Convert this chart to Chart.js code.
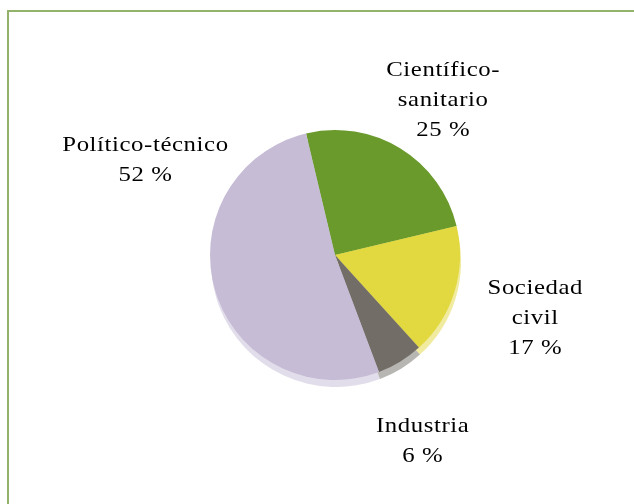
<!DOCTYPE html>
<html lang="es">
<head>
  <meta charset="UTF-8">
  <title>Distribución por sector</title>
  <script src="https://cdn.jsdelivr.net/npm/chart.js"></script>
  <style>
    body { margin: 0; background: #fff; }
    #wrap { position: relative; width: 634px; height: 504px; }
    #frame {
      position: absolute; left: 7px; top: 10px; right: 0; bottom: 0;
      border-top: 2px solid #93b36b; border-left: 2px solid #93b36b;
    }
    canvas { position: absolute; left: 0; top: 0; }
  </style>
</head>
<body>
  <div id="wrap">
    <div id="frame"></div>
    <canvas id="pieChart" width="634" height="504"></canvas>
  </div>

  <script>
    // categories (multi-line labels) and their shares in %
    const categories = [['Científico-', 'sanitario'], ['Sociedad', 'civil'], ['Industria'], ['Político-técnico']];
    const shares = [25, 17, 6, 52];
    const colors = ['#6a9a2c', '#e2d840', '#726e67', '#c6bcd6'];

    // light "3D" shadow under the pie: same arcs, shifted down and faded
    const pieShadow = {
      id: 'pieShadow',
      beforeDatasetsDraw(chart) {
        const ctx = chart.ctx;
        ctx.save();
        ctx.translate(1, 7);
        ctx.globalAlpha = 0.5;
        chart.getDatasetMeta(0).data.forEach(arc => arc.draw(ctx));
        ctx.restore();
      }
    };

    // outside labels: name lines + value, placed around each slice's mid angle
    const outerLabels = {
      id: 'outerLabels',
      afterDatasetsDraw(chart, args, opts) {
        const ctx = chart.ctx;
        const lineH = opts.lineHeight;
        chart.getDatasetMeta(0).data.forEach((arc, i) => {
          const adj = opts.adjust[i];
          const mid = (arc.startAngle + arc.endAngle) / 2 + adj.turn * Math.PI / 180;
          const x = arc.x + Math.cos(mid) * adj.dist;
          const y = arc.y + Math.sin(mid) * adj.dist;
          const lines = chart.data.labels[i].concat([chart.data.datasets[0].data[i] + ' %']);
          const top = y - (lines.length - 1) * lineH / 2;
          lines.forEach((t, k) => {
            ctx.save();
            ctx.font = opts.font;
            ctx.letterSpacing = opts.spacing;
            ctx.fillStyle = opts.color;
            ctx.textAlign = 'center';
            ctx.textBaseline = 'middle';
            ctx.translate(x, top + k * lineH);
            ctx.scale(opts.stretch, 1);
            ctx.fillText(t, 0, 0);
            ctx.restore();
          });
        });
      }
    };

    const ctx = document.getElementById('pieChart').getContext('2d');
    new Chart(ctx, {
      type: 'pie',
      data: {
        labels: categories,
        datasets: [{
          data: shares,
          backgroundColor: colors,
          borderWidth: 0
        }]
      },
      options: {
        responsive: false,
        animation: false,
        rotation: -13.4,
        layout: { padding: { left: 210, right: 174, top: 130, bottom: 124 } },
        plugins: {
          legend: { display: false },
          tooltip: { enabled: false },
          outerLabels: {
            font: '21px "Liberation Serif", serif',
            spacing: '0.5px',
            stretch: 1.18,
            color: '#000',
            lineHeight: 30,
            adjust: [
              { turn: 3.3, dist: 189 },
              { turn: 0.3, dist: 210 },
              { turn: 6.2, dist: 206 },
              { turn: 43.6, dist: 212 }
            ]
          }
        }
      },
      plugins: [pieShadow, outerLabels]
    });
  </script>
</body>
</html>
